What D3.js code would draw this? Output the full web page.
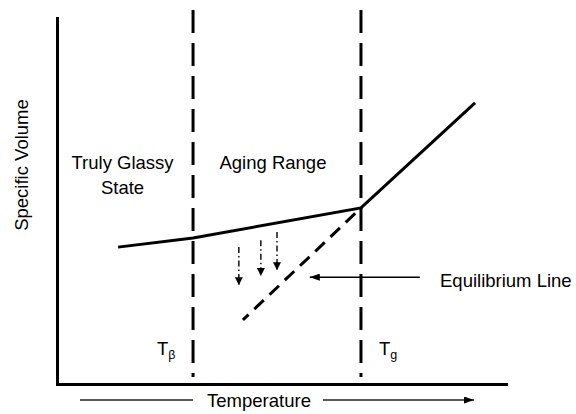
<!DOCTYPE html>
<html>
<head>
<meta charset="utf-8">
<script src="https://cdn.jsdelivr.net/npm/d3@7"></script>
<style>
  html, body { margin: 0; padding: 0; background: #fff; }
  svg { display: block; font-family: "Liberation Sans", Arial, Helvetica, sans-serif; }
</style>
</head>
<body>
<svg id="chart" width="576" height="414"></svg>
<script>
// ---- data (arbitrary units: temperature 0-100, specific volume 0-100) ----
const glassTemps   = [13.6, 30.3, 67.7, 93.1];
const glassVolumes = [37.4, 39.9, 48.1, 76.8];

const equilibriumTemps   = [67.7, 41.4];
const equilibriumVolumes = [48.1, 17.5];

const transitionTemps  = [30.3, 67.7];
const transitionSubs   = ["β", "g"];
const transitionExtent = [1.9, 102.2];

const agingTemps      = [40.5, 45.4, 49.0];
const agingStartVols  = [37.4, 39.3, 41.5];
const agingEndVols    = [27.0, 29.5, 31.1];

const regionLabels = [
  { lines: ["Truly Glassy", "State"], t: 14.6, v: 58.7 },
  { lines: ["Aging Range"], t: 48.1, v: 58.7 }
];
const equilibriumArrowT = [80.8, 56.3];
const equilibriumArrowV = 29.2;
const equilibriumLabel = "Equilibrium Line";
const xTitle = "Temperature";
const yTitle = "Specific Volume";

// ---- scales ----
const x = d3.scaleLinear().domain([0, 100]).range([57, 506]);
const y = d3.scaleLinear().domain([0, 100]).range([384, 18]);

const svg = d3.select("#chart");
const defs = svg.append("defs");
function marker(id, w, h) {
  defs.append("marker")
    .attr("id", id)
    .attr("viewBox", `0 0 ${w} ${h}`)
    .attr("refX", w).attr("refY", h / 2)
    .attr("markerWidth", w).attr("markerHeight", h)
    .attr("markerUnits", "userSpaceOnUse")
    .attr("orient", "auto")
    .append("path")
    .attr("d", `M0,0L${w},${h / 2}L0,${h}Z`)
    .attr("fill", "#000");
}
marker("head", 10, 7);
marker("headSmall", 8, 8);

// ---- axes (plain lines, no ticks) ----
const xAxis = svg.append("g")
  .attr("transform", `translate(0,${y(0)})`)
  .call(d3.axisBottom(x).tickValues([]).tickSizeOuter(0));
const yAxis = svg.append("g")
  .attr("transform", `translate(${x(0)},0)`)
  .call(d3.axisLeft(y).tickValues([]).tickSizeOuter(0));
[xAxis, yAxis].forEach(g => g.select(".domain")
  .attr("stroke", "#000").attr("stroke-width", 3).attr("stroke-linecap", "square"));

// ---- transition temperature dashed verticals ----
svg.append("g").selectAll("line")
  .data(transitionTemps)
  .join("line")
  .attr("x1", d => x(d)).attr("x2", d => x(d))
  .attr("y1", y(transitionExtent[1])).attr("y2", y(transitionExtent[0]))
  .attr("stroke", "#000").attr("stroke-width", 3)
  .attr("stroke-dasharray", "23,10");

// ---- glass curve ----
const line = d3.line().x(d => x(d[0])).y(d => y(d[1]));
svg.append("path")
  .datum(d3.zip(glassTemps, glassVolumes))
  .attr("d", line)
  .attr("fill", "none").attr("stroke", "#000").attr("stroke-width", 3)
  .attr("stroke-linejoin", "miter");

// ---- equilibrium dashed line ----
svg.append("path")
  .datum(d3.zip(equilibriumTemps, equilibriumVolumes))
  .attr("d", line)
  .attr("fill", "none").attr("stroke", "#000").attr("stroke-width", 3)
  .attr("stroke-dasharray", "13,8").attr("stroke-dashoffset", 13);

// ---- aging arrows (dash-dot) ----
svg.append("g").selectAll("line")
  .data(d3.zip(agingTemps, agingStartVols, agingEndVols))
  .join("line")
  .attr("x1", d => x(d[0])).attr("x2", d => x(d[0]))
  .attr("y1", d => y(d[1])).attr("y2", d => y(d[2]))
  .attr("stroke", "#000").attr("stroke-width", 1.4)
  .attr("stroke-dasharray", "6,3,1.5,3")
  .attr("marker-end", "url(#headSmall)");

// ---- equilibrium label arrow ----
svg.append("line")
  .attr("x1", x(equilibriumArrowT[0])).attr("x2", x(equilibriumArrowT[1]))
  .attr("y1", y(equilibriumArrowV)).attr("y2", y(equilibriumArrowV))
  .attr("stroke", "#000").attr("stroke-width", 1.5)
  .attr("marker-end", "url(#head)");
svg.append("text")
  .attr("x", 440).attr("y", 287)
  .attr("font-size", 18.5).attr("fill", "#000")
  .text(equilibriumLabel);

// ---- region labels ----
regionLabels.forEach(r => {
  const t = svg.append("text")
    .attr("text-anchor", "middle").attr("font-size", 18.5).attr("fill", "#000");
  r.lines.forEach((s, i) => {
    t.append("tspan").attr("x", x(r.t)).attr("y", y(r.v) + i * 24.5).text(s);
  });
});

// ---- T_beta / T_g labels ----
svg.append("g").selectAll("text")
  .data(d3.zip(transitionTemps, transitionSubs))
  .join("text")
  .attr("x", (d, i) => i === 0 ? x(d[0]) - 36 : x(d[0]) + 18)
  .attr("y", 355)
  .attr("font-size", 18.5).attr("fill", "#000")
  .call(t => {
    t.append("tspan").text("T");
    t.append("tspan").attr("font-size", 12.5).attr("dy", 4).text(d => d[1]);
  });

// ---- axis titles ----
svg.append("text")
  .attr("x", 259).attr("y", 407)
  .attr("text-anchor", "middle").attr("font-size", 18.5).attr("fill", "#000")
  .text(xTitle);
svg.append("line")
  .attr("x1", 80).attr("x2", 193).attr("y1", 400).attr("y2", 400)
  .attr("stroke", "#222").attr("stroke-width", 1.3);
svg.append("line")
  .attr("x1", 323).attr("x2", 474).attr("y1", 400).attr("y2", 400)
  .attr("stroke", "#222").attr("stroke-width", 1.3)
  .attr("marker-end", "url(#head)");

svg.append("text")
  .attr("transform", "translate(28,165) rotate(-90)")
  .attr("text-anchor", "middle").attr("font-size", 18.5).attr("fill", "#000")
  .text(yTitle);
</script>
</body>
</html>
